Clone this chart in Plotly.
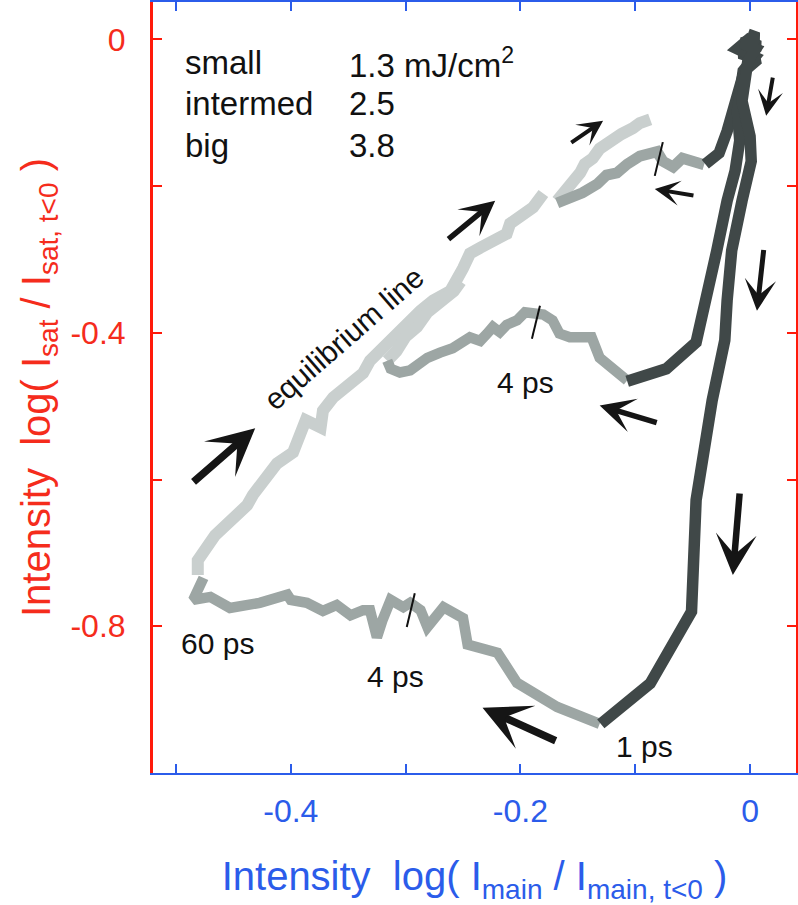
import plotly.graph_objects as go

# colours
RED = '#ff1a0a'
RED_TXT = '#f52c1c'
BLUE = '#2b5cea'
DARK = '#404848'
MID = '#9da6a4'
LIGHT = '#c9cfce'
FONT = 'Liberation Sans, Arial, sans-serif'

# --- big (3.8 mJ/cm2) -----------------------------------------------------
big_dark_x = [-0.002, 0.007, -0.007, 0.005, -0.002, -0.007, 0.000, 0.001, -0.007,
              -0.016, -0.020, -0.022, -0.033, -0.047, -0.051, -0.087, -0.130]
big_dark_y = [0.007, 0.002, -0.005, -0.013, -0.030, -0.084, -0.132, -0.166, -0.220,
              -0.288, -0.356, -0.410, -0.492, -0.628, -0.780, -0.878, -0.933]

big_mid_x = [-0.131, -0.168, -0.203, -0.220, -0.246, -0.250, -0.267, -0.281, -0.287,
             -0.296, -0.302, -0.313, -0.320, -0.325, -0.331, -0.337, -0.348, -0.360,
             -0.372, -0.386, -0.400, -0.403, -0.427, -0.453, -0.470, -0.485, -0.476]
big_mid_y = [-0.933, -0.910, -0.877, -0.836, -0.825, -0.789, -0.774, -0.801, -0.778,
             -0.768, -0.774, -0.764, -0.791, -0.815, -0.778, -0.778, -0.785, -0.771,
             -0.779, -0.768, -0.764, -0.757, -0.768, -0.775, -0.760, -0.764, -0.734]

big_light_x = [-0.481, -0.481, -0.466, -0.451, -0.438, -0.433, -0.412, -0.398, -0.387,
               -0.374, -0.372, -0.363, -0.346, -0.337, -0.331, -0.320, -0.311, -0.296,
               -0.287, -0.276, -0.261, -0.250, -0.244, -0.235, -0.224, -0.212, -0.209,
               -0.200, -0.189, -0.180]
big_light_y = [-0.730, -0.710, -0.676, -0.655, -0.635, -0.621, -0.578, -0.563, -0.519,
               -0.529, -0.506, -0.488, -0.465, -0.455, -0.438, -0.420, -0.406, -0.386,
               -0.370, -0.356, -0.343, -0.312, -0.292, -0.284, -0.274, -0.265, -0.251,
               -0.243, -0.229, -0.210]

# --- intermed (2.5 mJ/cm2) ------------------------------------------------
int_dark_x = [0.001, -0.011, 0.004, -0.006, -0.011, -0.009, -0.013, -0.020, -0.029,
              -0.039, -0.047, -0.073, -0.107]
int_dark_y = [0.003, -0.013, -0.024, -0.043, -0.098, -0.138, -0.179, -0.220, -0.288,
              -0.356, -0.413, -0.449, -0.466]

int_mid_x = [-0.107, -0.120, -0.131, -0.138, -0.157, -0.166, -0.172, -0.180, -0.192,
             -0.196, -0.203, -0.212, -0.218, -0.224, -0.229, -0.235, -0.244, -0.253,
             -0.259, -0.270, -0.281, -0.296, -0.305, -0.313, -0.316]
int_mid_y = [-0.465, -0.449, -0.434, -0.406, -0.406, -0.401, -0.383, -0.375, -0.374,
             -0.372, -0.383, -0.389, -0.399, -0.392, -0.401, -0.411, -0.406, -0.416,
             -0.421, -0.427, -0.434, -0.451, -0.454, -0.449, -0.438]

int_light_x = [-0.316, -0.308, -0.300, -0.290, -0.281, -0.270, -0.258, -0.252]
int_light_y = [-0.438, -0.425, -0.405, -0.392, -0.372, -0.360, -0.343, -0.330]

# --- small (1.3 mJ/cm2) ---------------------------------------------------
small_dark_x = [-0.005, 0.008, -0.009, 0.007, -0.005, -0.012, -0.020, -0.027, -0.039]
small_dark_y = [0.000, -0.009, -0.019, -0.027, -0.043, -0.084, -0.125, -0.155, -0.170]

small_mid_x = [-0.040, -0.059, -0.067, -0.076, -0.081, -0.096, -0.107, -0.116, -0.125,
               -0.133, -0.146, -0.157, -0.168]
small_mid_y = [-0.171, -0.162, -0.174, -0.166, -0.153, -0.159, -0.170, -0.182, -0.185,
               -0.197, -0.209, -0.215, -0.223]

small_light_x = [-0.168, -0.161, -0.154, -0.148, -0.144, -0.137, -0.131, -0.125, -0.118,
                 -0.112, -0.102, -0.096, -0.087]
small_light_y = [-0.220, -0.206, -0.197, -0.182, -0.170, -0.162, -0.149, -0.142, -0.138,
                 -0.129, -0.121, -0.114, -0.109]

# 4 ps markers
mark_small_x = [-0.083, -0.076]
mark_small_y = [-0.186, -0.140]
mark_int_x = [-0.190, -0.183]
mark_int_y = [-0.408, -0.363]
mark_big_x = [-0.299, -0.292]
mark_big_y = [-0.801, -0.755]

# fluence legend
legend_names = ['small', 'intermed', 'big']
legend_values = ['1.3 mJ/cm<sup>2</sup>', '2.5', '3.8']
legend_y = [-0.032, -0.088, -0.145]

# time labels: (text, x, y)
labels = [('4 ps', -0.196, -0.467), ('4 ps', -0.309, -0.869),
          ('60 ps', -0.464, -0.823), ('1 ps', -0.092, -0.964)]

# arrows: head x, head y, tail x, tail y, width
arrows = [
    (0.014, -0.104, 0.020, -0.050, 4),
    (0.006, -0.370, 0.012, -0.285, 5),
    (-0.015, -0.730, -0.009, -0.617, 6.5),
    (-0.131, -0.499, -0.080, -0.523, 5.5),
    (-0.233, -0.911, -0.168, -0.957, 7.5),
    (-0.083, -0.204, -0.048, -0.213, 4),
    (-0.128, -0.111, -0.157, -0.142, 4),
    (-0.222, -0.220, -0.264, -0.274, 5.5),
    (-0.431, -0.530, -0.486, -0.605, 7.5),
]

fig = go.Figure()

def add_line(x, y, color, width):
    fig.add_trace(go.Scatter(x=x, y=y, mode='lines', line=dict(color=color, width=width),
                             hoverinfo='skip', showlegend=False))

add_line(big_light_x, big_light_y, LIGHT, 12)
add_line(int_light_x, int_light_y, LIGHT, 12)
add_line(small_light_x, small_light_y, LIGHT, 12)
add_line(big_mid_x, big_mid_y, MID, 10.5)
add_line(int_mid_x, int_mid_y, MID, 10.5)
add_line(small_mid_x, small_mid_y, MID, 11)
add_line(small_dark_x, small_dark_y, DARK, 11.5)
add_line(int_dark_x, int_dark_y, DARK, 11.5)
add_line(big_dark_x, big_dark_y, DARK, 11.5)
for mx, my in [(mark_small_x, mark_small_y), (mark_int_x, mark_int_y), (mark_big_x, mark_big_y)]:
    add_line(mx, my, '#111111', 2)

annotations = []
for name, val, y in zip(legend_names, legend_values, legend_y):
    annotations.append(dict(x=-0.494, y=y, text=name, showarrow=False, xanchor='left',
                            yanchor='middle', font=dict(size=33, color='#111111')))
    annotations.append(dict(x=-0.351, y=y, text=val, showarrow=False, xanchor='left',
                            yanchor='middle', font=dict(size=33, color='#111111')))

for text, x, y in labels:
    annotations.append(dict(x=x, y=y, text=text, showarrow=False,
                            font=dict(size=30, color='#111111')))

annotations.append(dict(x=-0.354, y=-0.408, text='equilibrium line', showarrow=False,
                        textangle=-41, font=dict(size=30, color='#111111')))

for hx, hy, tx, ty, w in arrows:
    annotations.append(dict(x=hx, y=hy, ax=tx, ay=ty, xref='x', yref='y', axref='x',
                            ayref='y', text='', showarrow=True, arrowhead=3,
                            arrowsize=1.05, arrowwidth=w, arrowcolor='#151515'))

fig.update_layout(
    width=798, height=905,
    margin=dict(l=153, r=2, t=2, b=132),
    plot_bgcolor='white', paper_bgcolor='white',
    font=dict(family=FONT),
    annotations=annotations,
    xaxis=dict(
        range=[-0.52, 0.04], tickvals=[-0.4, -0.2, 0], ticktext=['-0.4', '-0.2', '0'],
        ticks='inside', ticklen=9, tickwidth=2, tickcolor=BLUE,
        linecolor=BLUE, linewidth=2, mirror='allticks', automargin=False,
        showgrid=False, zeroline=False, ticklabelstandoff=9,
        tickfont=dict(size=32, color=BLUE),
        minor=dict(tickvals=[-0.5, -0.3, -0.1], ticks='inside', ticklen=9,
                   tickwidth=2, tickcolor=BLUE),
        title=dict(text='Intensity\u00a0\u00a0log(\u00a0I<sub>main</sub>\u00a0/\u00a0I<sub>main,\u00a0t&lt;0</sub>\u00a0)',
                   font=dict(size=40, color=BLUE), standoff=34),
    ),
    yaxis=dict(
        range=[-1.0, 0.051], tickvals=[0, -0.4, -0.8], ticktext=['0', '-0.4', '-0.8'],
        ticks='inside', ticklen=9, tickwidth=2, tickcolor=RED,
        linecolor=RED, linewidth=3, mirror='allticks', automargin=False,
        showgrid=False, zeroline=False, ticklabelstandoff=18,
        tickfont=dict(size=32, color=RED_TXT),
        minor=dict(tickvals=[-0.2, -0.6], ticks='inside', ticklen=9,
                   tickwidth=2, tickcolor=RED),
        title=dict(text='Intensity\u00a0\u00a0log(\u00a0I<sub>sat</sub>\u00a0/\u00a0I<sub>sat,\u00a0t&lt;0</sub>\u00a0)',
                   font=dict(size=40, color=RED_TXT), standoff=8),
    ),
)

# the page body has a default 8px margin; drop it so the figure fills the window
fig.write_html("out.html", config={'displayModeBar': False},
               post_script="document.body.style.margin='0px';")
